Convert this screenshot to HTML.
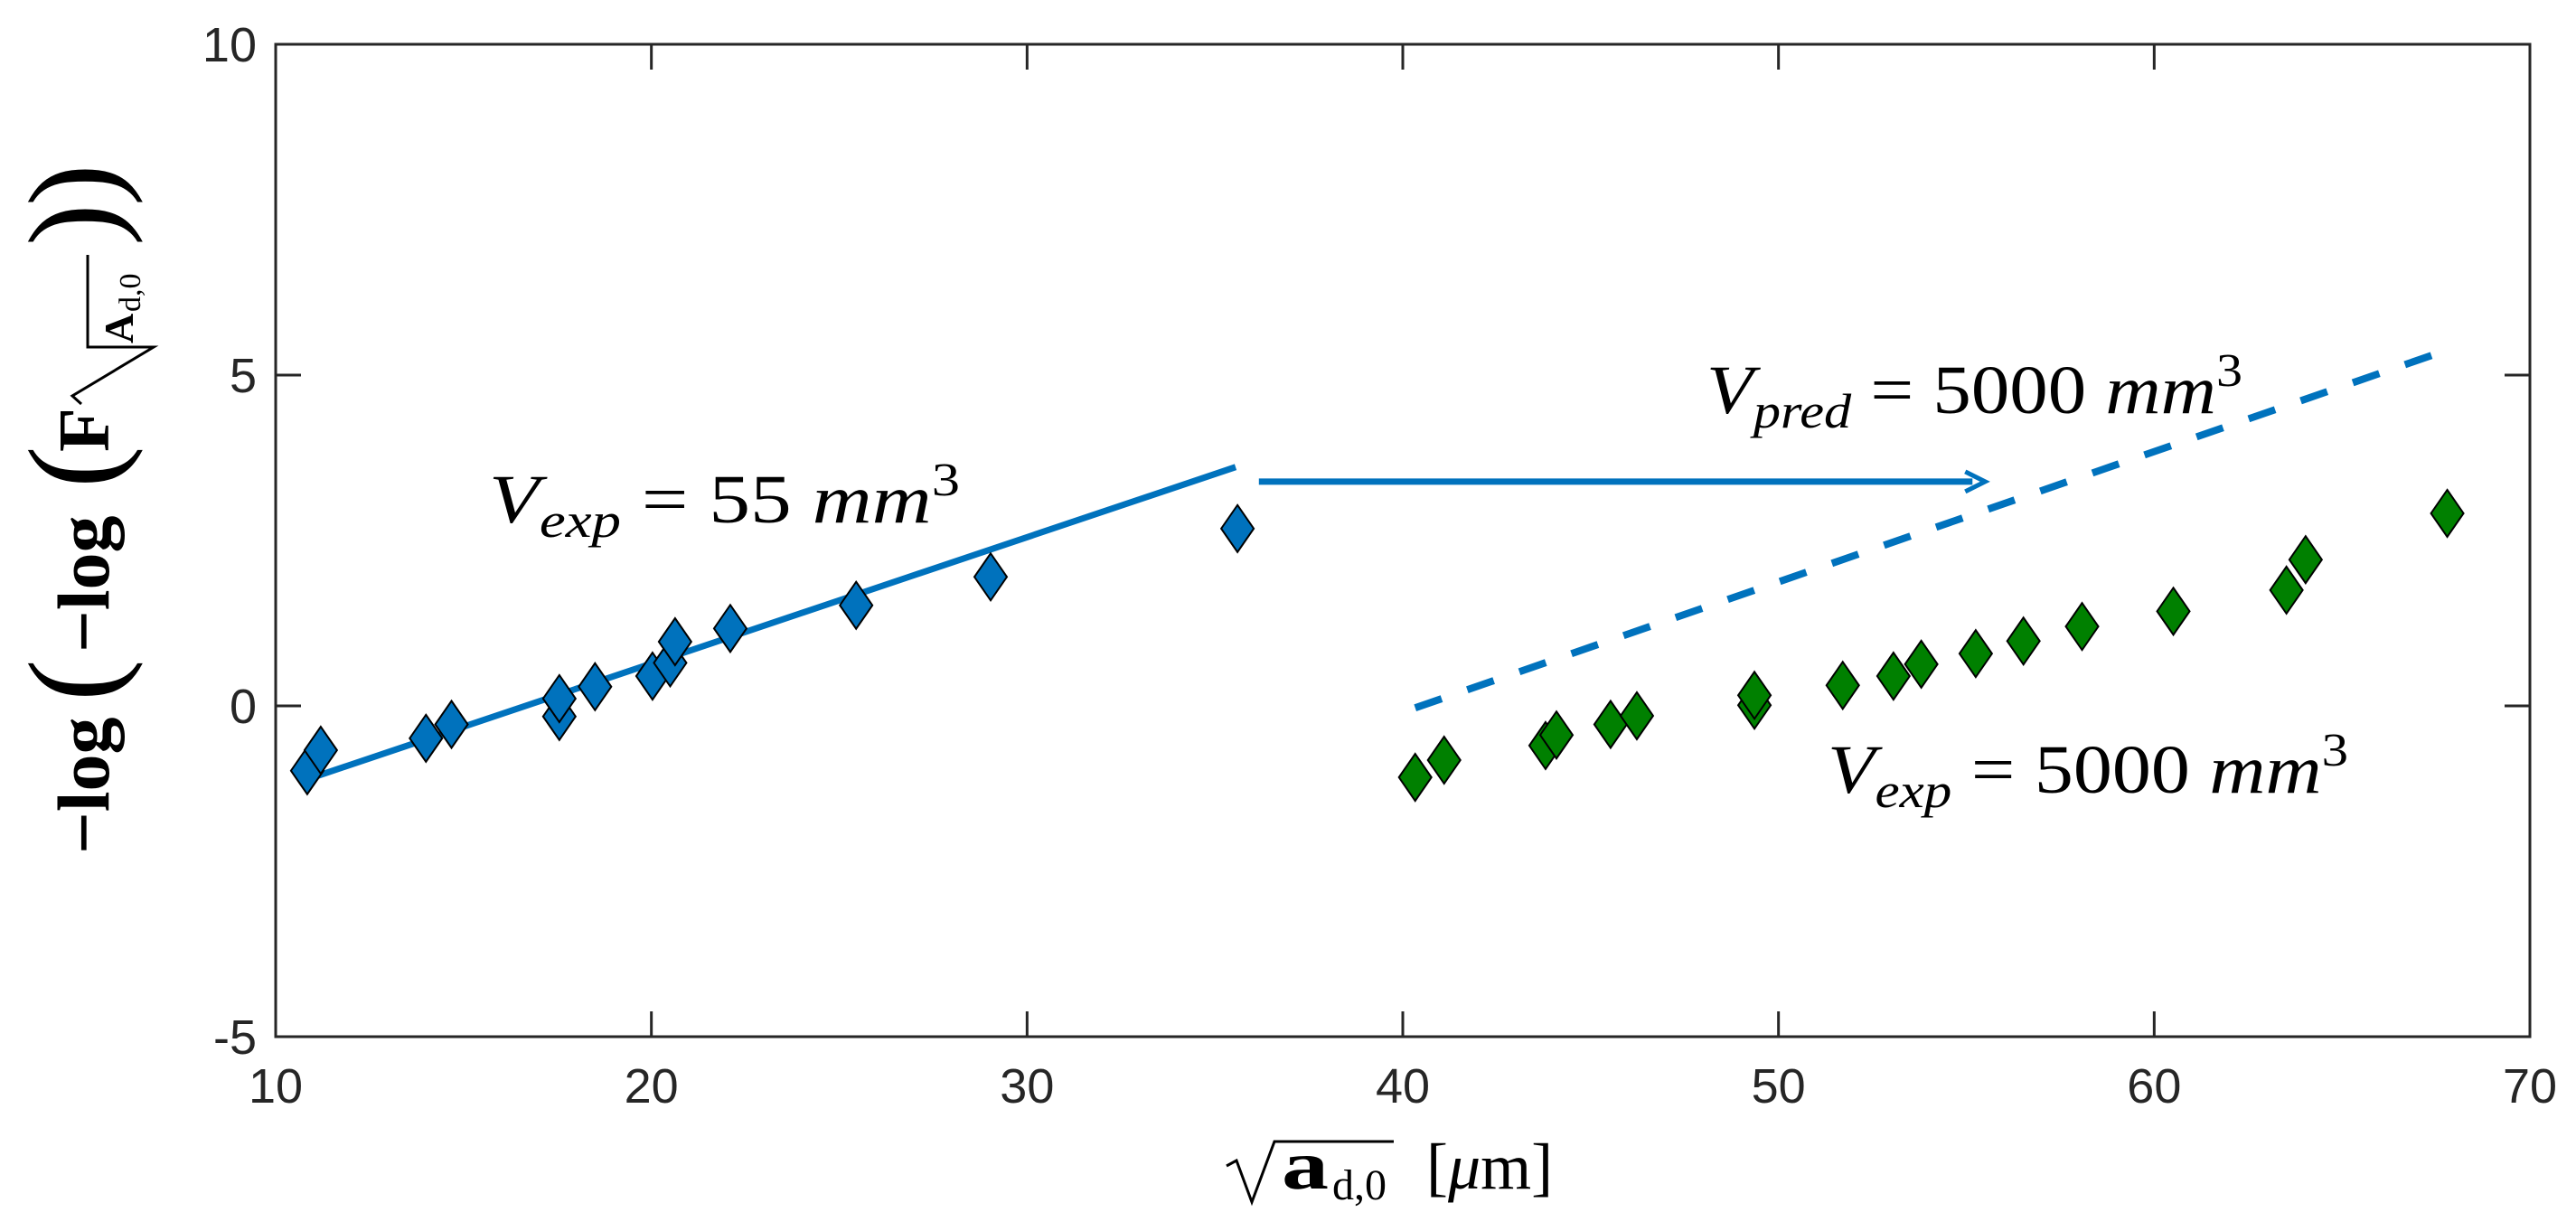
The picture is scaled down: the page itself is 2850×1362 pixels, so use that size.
<!DOCTYPE html>
<html><head><meta charset="utf-8"><style>
html,body{margin:0;padding:0;background:#fff;}
svg{display:block;}
</style></head><body>
<svg id="chart" width="2850" height="1362" viewBox="0 0 2850 1362" xmlns="http://www.w3.org/2000/svg">
<rect x="0" y="0" width="2850" height="1362" fill="#fff"/>
<g id="ticks"></g>
<g id="series"></g>
<rect x="305" y="49" width="2494" height="1098" fill="none" stroke="#262626" stroke-width="3"/>

<text x="541" y="578" font-family="Liberation Serif, serif" font-size="76" fill="#000" textLength="521" lengthAdjust="spacingAndGlyphs"><tspan font-style="italic">V</tspan><tspan font-style="italic" font-size="54" dy="16">exp</tspan><tspan dy="-16"> = 55 </tspan><tspan font-style="italic">mm</tspan><tspan font-size="52" dy="-30">3</tspan></text>
<text x="1888" y="457" font-family="Liberation Serif, serif" font-size="76" fill="#000" textLength="593" lengthAdjust="spacingAndGlyphs"><tspan font-style="italic">V</tspan><tspan font-style="italic" font-size="54" dy="16">pred</tspan><tspan dy="-16"> = 5000 </tspan><tspan font-style="italic">mm</tspan><tspan font-size="52" dy="-30">3</tspan></text>
<text x="2022" y="877" font-family="Liberation Serif, serif" font-size="76" fill="#000" textLength="576" lengthAdjust="spacingAndGlyphs"><tspan font-style="italic">V</tspan><tspan font-style="italic" font-size="54" dy="16">exp</tspan><tspan dy="-16"> = 5000 </tspan><tspan font-style="italic">mm</tspan><tspan font-size="52" dy="-30">3</tspan></text>

<g font-family="Liberation Serif, serif" fill="#000">
<path d="M1357 1290 L1368 1284 L1385 1330 L1410 1263 L1542 1263" fill="none" stroke="#000" stroke-width="3"/>
<text x="1418" y="1315" font-size="76" font-weight="bold" textLength="52" lengthAdjust="spacingAndGlyphs">a</text>
<text x="1474" y="1327" font-size="48">d,0</text>
<text x="1578" y="1315" font-size="72">[<tspan font-style="italic">μ</tspan>m]</text>
</g>

<g transform="translate(120,0) rotate(-90)" font-family="Liberation Serif, serif" fill="#000">
<text x="-945" y="0" font-size="82" font-weight="bold">−log</text>
<text x="-776" y="8" font-size="140">(</text>
<text x="-722" y="0" font-size="82" font-weight="bold">−log</text>
<text x="-540" y="8" font-size="140">(</text>
<text x="-500" y="0" font-size="80" font-weight="bold">F</text>
<path d="M-447 -30 L-438 -40 L-384 50 L-384 -23 L-282 -23" fill="none" stroke="#000" stroke-width="3"/>
<text x="-380" y="27" font-size="46" font-weight="bold">A</text>
<text x="-345" y="35" font-size="34">d,0</text>
<text x="-272" y="8" font-size="140">)</text>
<text x="-228" y="8" font-size="140">)</text>
</g>

<script>
const xTicks = [10, 20, 30, 40, 50, 60, 70];
const yTicks = [-5, 0, 5, 10];
const yTickLabels = ["-5", "0", "5", "10"];
const blueX = [10.84, 11.2, 14.0, 14.68, 17.55, 17.55, 18.5, 20.03, 20.5, 20.63, 22.1, 25.45, 29.03, 35.6];
const blueY = [-0.98, -0.67, -0.49, -0.28, -0.16, 0.11, 0.29, 0.45, 0.65, 0.97, 1.17, 1.52, 1.95, 2.68];
const greenX = [40.33, 41.1, 43.8, 44.09, 45.53, 46.23, 49.36, 49.36, 51.71, 53.06, 53.8, 55.25, 56.52, 58.08, 60.51, 63.52, 64.03, 67.8];
const greenY = [-1.08, -0.82, -0.6, -0.44, -0.28, -0.15, 0.01, 0.16, 0.31, 0.45, 0.63, 0.79, 0.98, 1.2, 1.43, 1.75, 2.21, 2.91];
const fitX = [10.84, 35.55];
const fitY = [-1.11, 3.61];
const predX = [40.33, 67.7];
const predY = [-0.03, 5.36];
const arrowX = [36.17, 55.5];
const arrowY = [3.39, 3.39];

const NS = "http://www.w3.org/2000/svg";
const L = 305, R = 2799, T = 49, B = 1147;
function sx(v){ return L + (v - 10) * (R - L) / 60; }
function sy(v){ return B - (v + 5) * (B - T) / 15; }
function mk(tag, attrs, parent){
  const e = document.createElementNS(NS, tag);
  for (const k in attrs) e.setAttribute(k, attrs[k]);
  parent.appendChild(e);
  return e;
}
const tg = document.getElementById('ticks');
const sg = document.getElementById('series');

xTicks.forEach(function(t){
  const x = sx(t);
  const a = mk('line', {x1:x, y1:B, x2:x, y2:B-28, stroke:'#262626', 'stroke-width':3}, tg);
  
  
  const b = mk('line', {x1:x, y1:T, x2:x, y2:T+28, stroke:'#262626', 'stroke-width':3}, tg);
  
  
  const lb = mk('text', {x:x, y:1220, 'text-anchor':'middle', 'font-family':'Liberation Sans, sans-serif', 'font-size':54, fill:'#262626'}, tg);
  lb.textContent = String(t);
  
  
});
yTicks.forEach(function(t, i){
  const y = sy(t);
  const a = mk('line', {x1:L, y1:y, x2:L+28, y2:y, stroke:'#262626', 'stroke-width':3}, tg);
  
  
  const b = mk('line', {x1:R, y1:y, x2:R-28, y2:y, stroke:'#262626', 'stroke-width':3}, tg);
  
  
  const lb = mk('text', {x:284, y:y+19, 'text-anchor':'end', 'font-family':'Liberation Sans, sans-serif', 'font-size':54, fill:'#262626'}, tg);
  lb.textContent = yTickLabels[i];
  
  
});

const fit = mk('line', {x1:sx(fitX[0]), y1:sy(fitY[0]), x2:sx(fitX[1]), y2:sy(fitY[1]), stroke:'#0072BD', 'stroke-width':7}, sg);



const pred = mk('line', {x1:sx(predX[0]), y1:sy(predY[0]), x2:sx(predX[1]), y2:sy(predY[1]), stroke:'#0072BD', 'stroke-width':8, 'stroke-dasharray':'31 30'}, sg);



const ax1 = sx(arrowX[0]), ax2 = sx(arrowX[1]), ay = sy(arrowY[0]);
const arr = mk('line', {x1:ax1, y1:ay, x2:ax2-14, y2:sy(arrowY[1]), stroke:'#0072BD', 'stroke-width':7}, sg);


const head = mk('path', {d:'M'+(ax2-22)+' '+(ay-11)+' L'+ax2+' '+ay+' L'+(ax2-22)+' '+(ay+11), fill:'none', stroke:'#0072BD', 'stroke-width':5}, sg);



function diamond(x, y, color, name){
  const cx = sx(x), cy = sy(y);
  const d = 'M'+cx+' '+(cy-26)+' L'+(cx+18)+' '+cy+' L'+cx+' '+(cy+26)+' L'+(cx-18)+' '+cy+' Z';
  const p = mk('path', {d:d, fill:color, stroke:'#000', 'stroke-width':2}, sg);
  
  
}
blueX.forEach(function(x, i){ diamond(x, blueY[i], '#0072BD', 'point-55mm3'); });
greenX.forEach(function(x, i){ diamond(x, greenY[i], '#008000', 'point-5000mm3'); });
</script>
</svg>
</body></html>
